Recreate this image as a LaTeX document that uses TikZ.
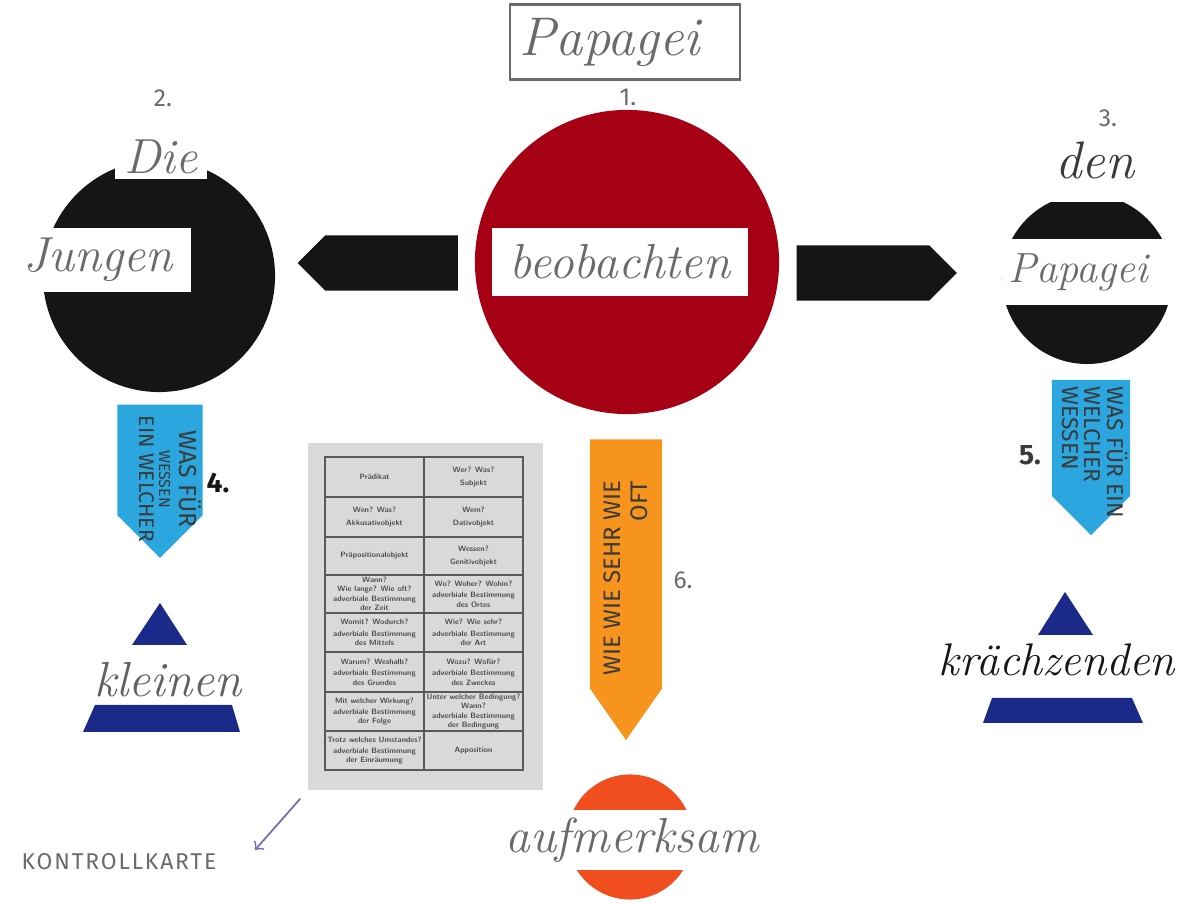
\documentclass[tikz,border=0pt]{standalone}
\usepackage{fontspec}
\usepackage{xcolor}
\usepackage{tikz}
\usetikzlibrary{positioning,shapes.symbols}

\newfontfamily\blockfont{Fira Sans}

\definecolor{ink}{HTML}{151515}
\definecolor{signred}{HTML}{A50014}
\definecolor{dotred}{HTML}{F04E1E}
\definecolor{flagorange}{HTML}{F7941D}
\definecolor{flagblue}{HTML}{2BA6DE}
\definecolor{navy}{HTML}{1B2A88}
\definecolor{cardgray}{HTML}{D9D9D7}
\definecolor{pengray}{HTML}{6A6A6A}
\definecolor{pendark}{HTML}{3A3A3A}
\definecolor{lilac}{HTML}{7B6BB5}

\tikzset{
	hand/.style={font=\itshape\fontsize{#1}{#1}\selectfont, text=pengray, inner sep=0pt},
	hand/.default=14,
	tag/.style={fill=white, inner sep=0pt},
	numlabel/.style={font=\blockfont\fontsize{7}{7}\selectfont, text=pengray},
	pointer/.style={signal, fill=ink, signal to=#1, minimum width=1.6cm, minimum height=0.55cm},
	pennant/.style={signal, fill=#1, inner sep=0pt},
	flagtext/.style={font=\blockfont\fontsize{#1}{#1}\selectfont, text=pendark, inner sep=0pt},
	cell/.style={font=\sffamily\bfseries\fontsize{2.2}{2.7}\selectfont, text=black!70, align=center, inner sep=0pt},
}

\begin{document}
\begin{tikzpicture}[x=0.01cm, y=-0.01cm]
	\useasboundingbox (0,0) rectangle (1184,904);

	\node[draw=pengray, line width=0.8pt, minimum width=2.3cm, minimum height=0.75cm, hand=15.5] (title) at (625,42) {\hspace*{-0.3cm}Papagei};

	\node[circle, fill=signred, minimum size=3.04cm] (redc) at (627,262) {};
	\node[tag, minimum width=2.55cm, minimum height=0.68cm, hand] (beob) at (620,262) {beobachten};
	\node[numlabel] (one) at (628,97) {1.};

	\node[pointer=west] (toleft) at (391.5,263) {};
	\node[pointer=east] (toright) at (863,273) {};

	\node[circle, fill=ink, minimum size=2.32cm] (jungc) at (159,276) {};
	\node[tag, minimum width=0.92cm, minimum height=0.45cm, hand] (die) at (161,157) {Die};
	\node[tag, minimum width=1.85cm, minimum height=0.64cm, anchor=west, hand] (jungen) at (5,260) {Jungen};
	\node[numlabel] (two) at (163,98) {2.};

	\begin{scope}
		\clip (990,203) rectangle (1184,380);
		\node[circle, fill=ink, minimum size=1.7cm] (papc) at (1087,279) {};
	\end{scope}
	\node[tag, minimum width=1.77cm, minimum height=0.65cm, hand=12] (papagei) at (1091,272) {\hspace*{-0.25cm}Papagei};
	\node[hand=15, text=pendark] (den) at (1095,160) {den};
	\node[numlabel] (three) at (1108,118) {3.};

	\node[pennant=flagblue, signal to=south, minimum width=0.85cm, minimum height=1.105cm] (flagL) at (160,460) {};
	\node[flagtext=5.7, rotate=-90, align=center] (flagLtext) at (170,479)
		{\fontsize{7}{7}\selectfont WAS FÜR\\\fontsize{4.5}{5}\selectfont WESSEN\\\fontsize{6}{6}\selectfont EIN WELCHER};
	\node[numlabel, text=ink, font=\blockfont\bfseries\fontsize{8}{8}\selectfont] (four) at (218,483) {4.};

	\node[pennant=flagblue, signal to=south, minimum width=0.78cm, minimum height=1.16cm] (flagR) at (1091,438) {};
	\node[flagtext=6.5, rotate=-90, align=left, anchor=west] (flagRtext) at (1095,386)
		{WAS FÜR EIN\\WELCHER\\WESSEN};
	\node[numlabel, text=pendark, font=\blockfont\bfseries\fontsize{8}{8}\selectfont] (five) at (1030,455) {5.};

	\node[pennant=flagorange, signal to=south, signal pointer angle=70, minimum width=0.72cm, minimum height=2.49cm] (flagO) at (626,564) {};
	\node[flagtext=7.8, rotate=90, align=right] (flagOtext) at (626,578)
		{\fontsize{6.8}{6.8}\selectfont WIE WIE SEHR WIE\\\fontsize{6.8}{6.8}\selectfont OFT};
	\node[numlabel] (six) at (683,580) {6.};

	\fill[navy] (132,645) -- (160,603) -- (187,645) -- cycle;
	\node[hand=14, text=pendark!80] (kleinen) at (168,680) {kleinen};
	\fill[navy] (95,705) -- (232,705) -- (240,732) -- (83,732) -- cycle;

	\fill[navy] (1038,635) -- (1065,592) -- (1093,635) -- cycle;
	\node[hand=13, text=ink] (kraechz) at (1057,660) {krächzenden};
	\fill[navy] (992,698) -- (1132,698) -- (1143,723) -- (983,723) -- cycle;

	\node[circle, fill=dotred, minimum size=1.25cm] (dot) at (630,837) {};
	\node[tag, minimum width=2.5cm, minimum height=0.6cm, hand] (aufm) at (632,840) {aufmerksam};

	\node[fill=cardgray, minimum width=2.35cm, minimum height=3.47cm] (card) at (425.5,616.5) {};
	\draw[black!65, line width=0.3pt] (325,457) rectangle (523,770) (424,457) -- (424,770);
	\foreach \yy in {497,537,575,613,652,692,731}
		\draw[black!65, line width=0.3pt] (325,\yy) -- (523,\yy);
	\foreach \yy/\lt/\rt [count=\i] in {
		477/{Prädikat}/{Wer? Was?\\[1pt]Subjekt},
		517/{Wen? Was?\\[1pt]Akkusativobjekt}/{Wem?\\[1pt]Dativobjekt},
		556/{Präpositionalobjekt}/{Wessen?\\[1pt]Genitivobjekt},
		594/{Wann?\\Wie lange? Wie oft?\\adverbiale Bestimmung\\der Zeit}/{Wo? Woher? Wohin?\\[0.5pt]adverbiale Bestimmung\\des Ortes},
		632.5/{Womit? Wodurch?\\[0.5pt]adverbiale Bestimmung\\des Mittels}/{Wie? Wie sehr?\\[0.5pt]adverbiale Bestimmung\\der Art},
		672/{Warum? Weshalb?\\[0.5pt]adverbiale Bestimmung\\des Grundes}/{Wozu? Wofür?\\[0.5pt]adverbiale Bestimmung\\des Zweckes},
		711.5/{Mit welcher Wirkung?\\[0.5pt]adverbiale Bestimmung\\der Folge}/{Unter welcher Bedingung?\\Wann?\\adverbiale Bestimmung\\der Bedingung},
		750.5/{Trotz welches Umstandes?\\[0.5pt]adverbiale Bestimmung\\der Einräumung}/{Apposition}} {
		\node[cell] (left\i) at (374.5,\yy) {\lt};
		\node[cell] (right\i) at (473.5,\yy) {\rt};
	}

	\node[font=\blockfont\addfontfeatures{LetterSpace=8}\fontsize{6.5}{6.5}\selectfont, text=pengray] (kontrolle) at (119,862) {KONTROLLKARTE};
	\coordinate (cardtip) at (255,850);
	\draw[lilac, line width=0.5pt, ->, shorten <=3pt] (card.south west) -- (cardtip);
\end{tikzpicture}
\end{document}
